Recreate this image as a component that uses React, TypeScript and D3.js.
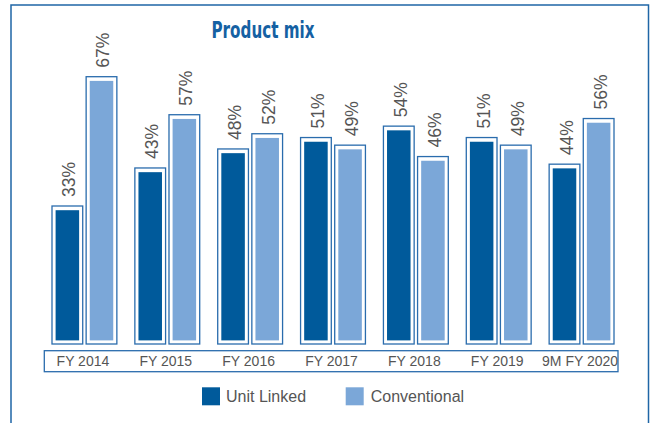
import React from "react";
import * as d3 from "d3";

const categories = ["FY 2014", "FY 2015", "FY 2016", "FY 2017", "FY 2018", "FY 2019", "9M FY 2020"];
const unitLinked = [33, 43, 48, 51, 54, 51, 44];
const conventional = [67, 57, 52, 49, 46, 49, 56];
const seriesNames = ["Unit Linked", "Conventional"];

const W = 652;
const H = 423;
const DARK = "#005a9b";
const LIGHT = "#7ba7d8";
const OUTLINE = "#2a6cad";
const FRAME = "#1f66a6";
const TEXT = "#555555";

export default function App() {
  const x0 = d3.scaleBand<string>().domain(categories).range([43, 623]).paddingInner(0).paddingOuter(0);
  const x1 = d3.scaleBand<string>().domain(seriesNames).range([9, x0.bandwidth() - 9]).paddingInner(0.1);
  // value -> top of bar outline
  const y = d3.scaleLinear().domain([33, 67]).range([206, 76.7]);
  const baseline = 344;
  const inset = 3.6;

  const series = [
    { name: seriesNames[0], values: unitLinked, color: DARK },
    { name: seriesNames[1], values: conventional, color: LIGHT },
  ];

  const font = "'Liberation Sans', Arial, sans-serif";

  return (
    <svg width={W} height={H} style={{ position: "absolute", left: 0, top: 0, background: "#fff" }}>
      <rect x={11} y={5} width={637.5} height={430} fill="#fff" stroke={FRAME} strokeWidth={1.5} />
      <text
        x={263}
        y={37.5}
        textAnchor="middle"
        fontFamily="'Liberation Sans Narrow', 'DejaVu Sans Condensed', sans-serif"
        fontWeight="bold"
        fontSize={23}
        fill="#1561a3"
        textLength={103}
        lengthAdjust="spacingAndGlyphs"
      >
        Product mix
      </text>
      {categories.map((c, i) => (
        <g key={c} transform={`translate(${x0(c)},0)`}>
          {series.map((s) => {
            const v = s.values[i];
            const bx = x1(s.name)!;
            const bw = x1.bandwidth();
            const top = y(v);
            return (
              <g key={s.name}>
                <rect x={bx} y={top} width={bw} height={baseline - top} fill="#fff" stroke={OUTLINE} strokeWidth={1.3} />
                <rect
                  x={bx + inset}
                  y={top + inset + 0.6}
                  width={bw - 2 * inset}
                  height={baseline - top - 2 * inset - 0.6}
                  fill={s.color}
                />
                <text
                  transform={`translate(${bx + bw / 2 + 2},${top - 9}) rotate(-90)`}
                  dominantBaseline="central"
                  fontFamily={font}
                  fontSize={17.5}
                  fill={TEXT}
                >
                  {v}%
                </text>
              </g>
            );
          })}
          <text
            x={x0.bandwidth() / 2 - 1.5}
            y={365.5}
            textAnchor="middle"
            fontFamily={font}
            fontSize={14}
            fill={TEXT}
          >
            {c}
          </text>
        </g>
      ))}
      <rect x={44.3} y={350.7} width={573.7} height={21} fill="none" stroke={OUTLINE} strokeWidth={1.3} />
      <g>
        <rect x={202} y={387.3} width={18} height={18} fill={DARK} />
        <text x={226} y={402.3} fontFamily={font} fontSize={16} fill={TEXT}>
          {seriesNames[0]}
        </text>
        <rect x={345.7} y={387.3} width={18} height={18} fill={LIGHT} />
        <text x={370.7} y={402.3} fontFamily={font} fontSize={16} fill={TEXT}>
          {seriesNames[1]}
        </text>
      </g>
    </svg>
  );
}
